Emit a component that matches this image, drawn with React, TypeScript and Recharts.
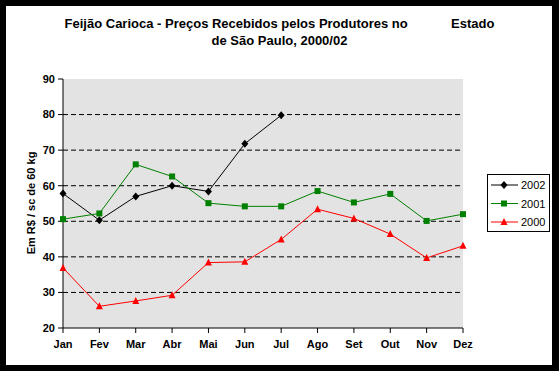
import React from 'react'
import {
  LineChart,
  Line,
  XAxis,
  YAxis,
  CartesianGrid,
} from 'recharts'

const months = ['Jan', 'Fev', 'Mar', 'Abr', 'Mai', 'Jun', 'Jul', 'Ago', 'Set', 'Out', 'Nov', 'Dez']
const y2002 = [57.8, 50.3, 57.0, 60.0, 58.4, 71.8, 79.8, null, null, null, null, null]
const y2001 = [50.6, 52.2, 66.0, 62.6, 55.1, 54.2, 54.2, 58.5, 55.3, 57.7, 50.1, 52.0]
const y2000 = [36.9, 26.1, 27.6, 29.2, 38.4, 38.6, 44.9, 53.4, 50.8, 46.4, 39.7, 43.1]
const yTicks = [20, 30, 40, 50, 60, 70, 80, 90]
const gridValues = [30, 40, 50, 60, 70, 80]

const data = months.map((m, i) => ({
  month: m,
  s2002: y2002[i],
  s2001: y2001[i],
  s2000: y2000[i],
}))

const FONT = '"Liberation Sans", Arial, sans-serif'

// marker shapes
function Diamond({ cx, cy, fill }: any) {
  return <path d={`M${cx},${cy - 4}L${cx + 3.5},${cy}L${cx},${cy + 4}L${cx - 3.5},${cy}Z`} fill={fill} />
}
function Square({ cx, cy, fill }: any) {
  return <rect x={cx - 3} y={cy - 3} width={6} height={6} fill={fill} />
}
function Triangle({ cx, cy, fill }: any) {
  return <path d={`M${cx},${cy - 4}L${cx + 3.5},${cy + 3}L${cx - 3.5},${cy + 3}Z`} fill={fill} />
}

const series = [
  { key: 's2002', name: '2002', color: '#000000', Shape: Diamond },
  { key: 's2001', name: '2001', color: '#008000', Shape: Square },
  { key: 's2000', name: '2000', color: '#FF0000', Shape: Triangle },
]

function LegendBox() {
  return (
    <div
      style={{
        position: 'absolute',
        left: 487,
        top: 174,
        width: 63,
        height: 58,
        border: '1px solid #000',
        background: '#fff',
        boxSizing: 'border-box',
      }}
    >
      <svg width={61} height={56} style={{ display: 'block' }}>
        {series.map((s, i) => {
          const y = 10 + i * 18.5
          return (
            <g key={s.key}>
              <line x1={3} x2={30} y1={y} y2={y} stroke={s.color} strokeWidth={1} />
              <s.Shape cx={16} cy={y} fill={s.color} />
              <text x={33} y={y + 4} fontSize={11} fontFamily={FONT} fill="#000">
                {s.name}
              </text>
            </g>
          )
        })}
      </svg>
    </div>
  )
}

export default function App() {
  const tickStyle = { fill: '#000', fontSize: 11, fontWeight: 'bold', fontFamily: FONT }
  return (
    <div style={{ position: 'absolute', left: 0, top: 0, width: 559, height: 371, background: '#000' }}>
      <div style={{ position: 'absolute', left: 6, top: 6, width: 546, height: 359, background: '#fff' }} />
      <div
        style={{
          position: 'absolute',
          left: 0,
          top: 15,
          width: 559,
          textAlign: 'center',
          fontFamily: FONT,
          fontWeight: 'bold',
          fontSize: 13,
          lineHeight: '17px',
          whiteSpace: 'pre',
          color: '#000',
        }}
      >
        {'Feijão Carioca - Preços Recebidos pelos Produtores no            Estado\nde São Paulo, 2000/02'}
      </div>
      <div
        style={{
          position: 'absolute',
          left: 31,
          top: 203,
          transform: 'translate(-50%, -50%) rotate(-90deg)',
          fontFamily: FONT,
          fontWeight: 'bold',
          fontSize: 11,
          whiteSpace: 'nowrap',
          color: '#000',
        }}
      >
        Em R$ / sc de 60 kg
      </div>
      <LineChart
        width={559}
        height={371}
        data={data}
        margin={{ top: 79, right: 96, bottom: 13, left: 0 }}
        style={{ position: 'absolute', left: 0, top: 0 }}
      >
        <CartesianGrid
          vertical={false}
          fill="#E3E3E3"
          stroke="#000"
          strokeDasharray="5 3"
          horizontalValues={gridValues}
        />
        <XAxis
          dataKey="month"
          height={30}
          tick={tickStyle}
          tickSize={5}
          tickMargin={7}
          axisLine={{ stroke: '#000' }}
          tickLine={{ stroke: '#000' }}
          interval={0}
        />
        <YAxis
          width={63}
          domain={[20, 90]}
          ticks={yTicks}
          tick={tickStyle}
          tickSize={5}
          tickMargin={3}
          axisLine={{ stroke: '#000' }}
          tickLine={{ stroke: '#000' }}
          allowDataOverflow
        />
        {series.map((s) => (
          <Line
            key={s.key}
            dataKey={s.key}
            name={s.name}
            stroke={s.color}
            strokeWidth={1}
            isAnimationActive={false}
            connectNulls={false}
            dot={(p: any) => <s.Shape key={`${s.key}-${p.index}`} cx={p.cx} cy={p.cy} fill={s.color} />}
            activeDot={false}
          />
        ))}
      </LineChart>
      <LegendBox />
    </div>
  )
}
